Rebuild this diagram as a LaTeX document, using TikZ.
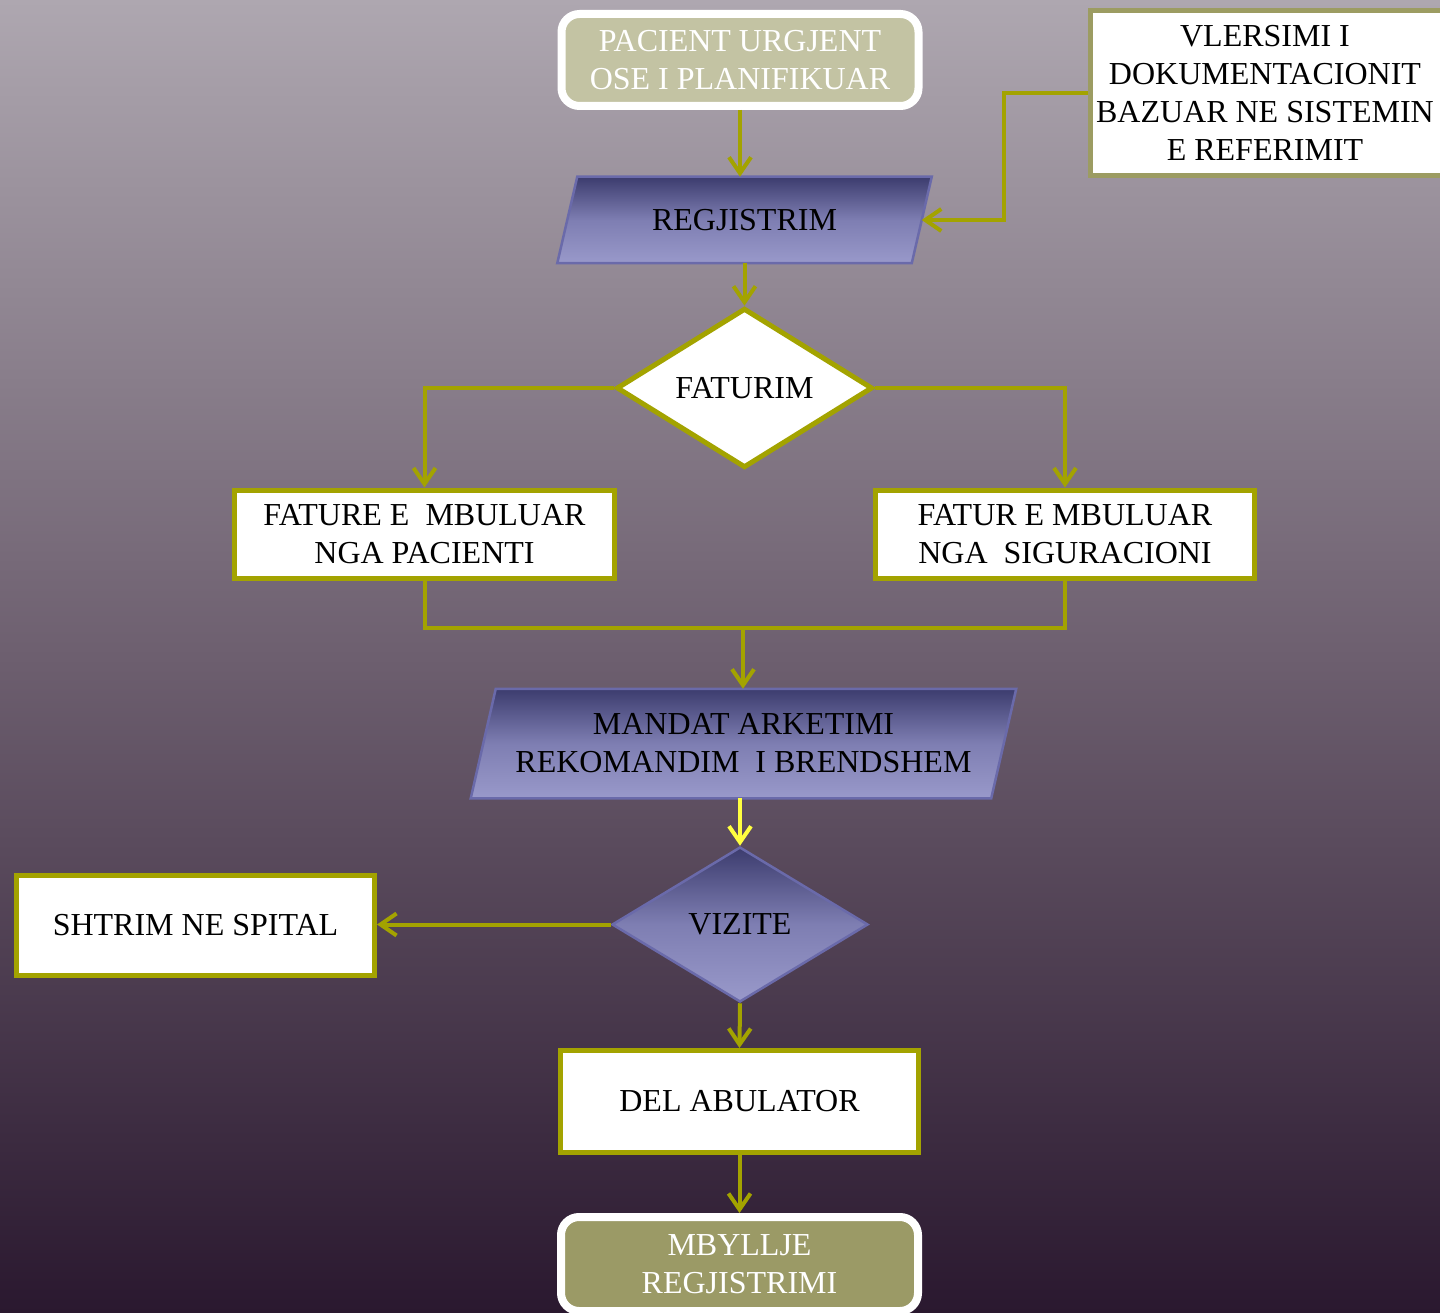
\documentclass[tikz,border=0pt]{standalone}
\usepackage{fontspec}
\setmainfont{Liberation Serif}
\usetikzlibrary{shapes.geometric,arrows.meta}
\pgfdeclarelayer{bglayer}
\pgfdeclarelayer{shapelayer}
\pgfsetlayers{bglayer,shapelayer,main}
\definecolor{olive}{HTML}{A3A300}
\definecolor{olivegray}{HTML}{9C9C62}
\definecolor{bluedark}{HTML}{3C3C6E}
\definecolor{bluemid}{HTML}{7E7EB2}
\definecolor{bluelight}{HTML}{9999CA}
\definecolor{blueedge}{HTML}{6A6AAA}
\definecolor{bgtop}{HTML}{AEA7B0}
\definecolor{bgmid}{HTML}{6D5F6F}
\definecolor{bgbot}{HTML}{2A182F}
\definecolor{startfill}{HTML}{C3C3A3}
\definecolor{endfill}{HTML}{9B9A66}
\definecolor{yel}{HTML}{FFFF40}
\begin{document}
\begin{tikzpicture}[x=1pt,y=-1pt,
  every node/.style={font=\fontsize{32}{38}\selectfont, align=center, inner sep=0pt},
  terminal/.style={rectangle, rounded corners=18pt, draw=white, line width=8pt, text=white},
  whitebox/.style={rectangle, draw=olive, fill=white, line width=5pt},
  paratext/.style={rectangle, outer sep=1.25pt},
  parashade/.style={draw=blueedge, line width=2.5pt, line join=miter,
    top color=bluedark, bottom color=bluelight, middle color=bluemid},
  conn/.style={draw=olive, line width=4pt, -{Straight Barb[length=16pt,width=22pt]}},
  plainconn/.style={draw=olive, line width=4pt},
]
\begin{pgfonlayer}{bglayer}
\shade[top color=bgtop, bottom color=bgbot, middle color=bgmid] (0,0) rectangle (1440,1313);
\end{pgfonlayer}
\useasboundingbox (0,0) rectangle (1440,1313);

\node[terminal, fill=startfill, minimum width=357pt, minimum height=92pt] (pac) at (740,60)
  {PACIENT URGJENT\\OSE I PLANIFIKUAR};
\node[paratext, minimum width=352pt, minimum height=84pt] (reg) at (744.5,220) {REGJISTRIM};
\node[rectangle, draw=olivegray, fill=white, line width=5pt, minimum width=362pt, minimum height=165pt,
  label={[xshift=-6.5pt, align=center, font=\fontsize{32}{38}\selectfont]center:VLERSIMI I\\DOKUMENTACIONIT\\BAZUAR NE SISTEMIN\\E REFERIMIT}] (vl) at (1271.5,93) {};
\node[diamond, draw=olive, fill=white, line width=5pt, minimum width=256pt, minimum height=155pt] (fat) at (744.5,388) {FATURIM};
\node[whitebox, minimum width=380pt, minimum height=88pt] (fl) at (424.5,534)
  {FATURE E\ \ MBULUAR\\NGA PACIENTI};
\node[whitebox, minimum width=379pt, minimum height=88pt] (fr) at (1065,534)
  {FATUR E MBULUAR\\NGA\ \ SIGURACIONI};
\node[paratext, minimum width=518pt, minimum height=107pt] (man) at (743.5,743.5)
  {MANDAT ARKETIMI\\REKOMANDIM\ \ I BRENDSHEM};
\node[diamond, draw=blueedge, line width=2.5pt, top color=bluedark, bottom color=bluelight, middle color=bluemid,
  minimum width=256pt, minimum height=155pt] (viz) at (740,924.5) {VIZITE};
\node[whitebox, minimum width=358pt, minimum height=100pt] (sh) at (195.5,925.5) {SHTRIM NE SPITAL};
\node[whitebox, minimum width=358pt, minimum height=102pt] (del) at (739.5,1101.5) {DEL ABULATOR};
\node[terminal, fill=endfill, minimum width=357pt, minimum height=94pt] (mb) at (739.5,1264)
  {MBYLLJE\\REGJISTRIMI};

\begin{pgfonlayer}{shapelayer}
\path[parashade] ([xshift=-10pt]reg.south west) -- ([xshift=10pt]reg.north west)
  -- ([xshift=10pt]reg.north east) -- ([xshift=-10pt]reg.south east) -- cycle;
\path[parashade] ([xshift=-12.5pt]man.south west) -- ([xshift=12.5pt]man.north west)
  -- ([xshift=12.5pt]man.north east) -- ([xshift=-12.5pt]man.south east) -- cycle;
\end{pgfonlayer}

\coordinate (m) at (743,628);

\draw[conn] (pac.south) -- (pac.south |- reg.north);
\draw[conn] (vl.west) -- ++(-84,0) |- (reg.east);
\draw[conn] (reg.south) -- (fat.north);
\draw[conn] (fat.west) -| (fl.north);
\draw[conn] (fat.east) -| (fr.north);
\draw[plainconn] (fl.south) |- (m) -| (fr.south);
\draw[conn] (m) -- (m |- man.north);
\draw[conn, draw=yel] (viz.north |- man.south) -- (viz.north);
\draw[conn] (viz.west) -- (viz.west -| sh.east);
\draw[conn] (viz.south) -- (del.north);
\draw[conn] (del.south) -- (mb.north);
\end{tikzpicture}
\end{document}
